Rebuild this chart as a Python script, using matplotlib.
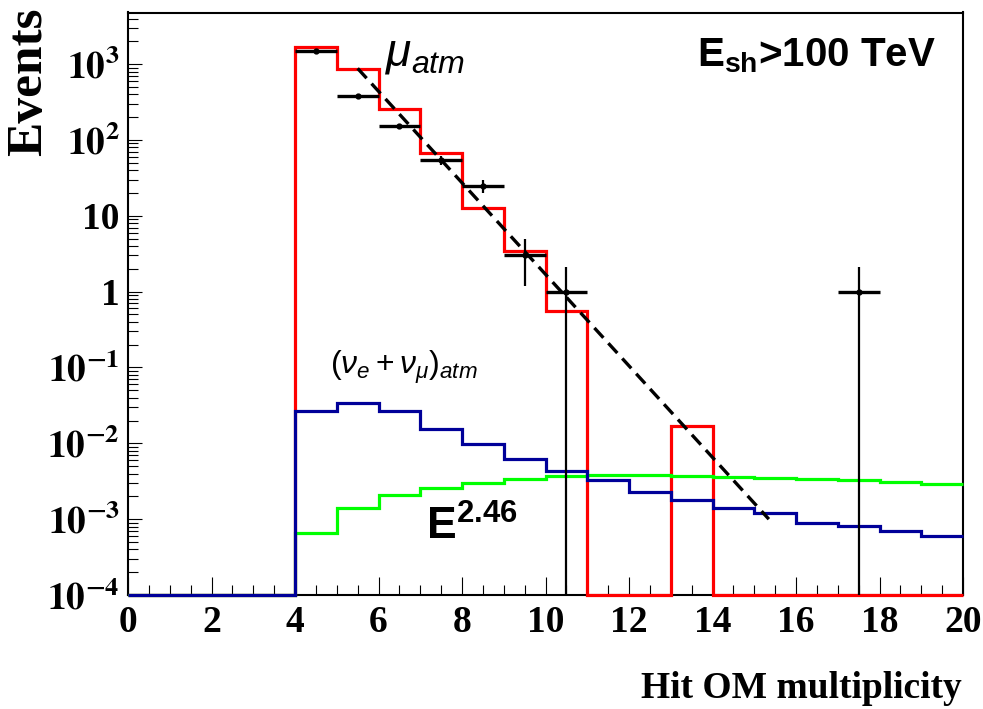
import matplotlib
matplotlib.use('Agg')
import matplotlib.pyplot as plt
from matplotlib import font_manager
from matplotlib.ticker import FixedLocator, FixedFormatter, MultipleLocator, NullFormatter
import numpy as np

# histogram binning (hit OM multiplicity)
edges = np.arange(0, 21)
floor = 1e-4

# atmospheric muons MC (red)
mu_mc = [floor, floor, floor, floor, 1675, 860, 255, 67, 12.6, 3.4, 0.55,
         floor, floor, 0.0168, floor, floor, floor, floor, floor, floor]
# atmospheric neutrinos (blue)
nu_atm = [floor, floor, floor, floor, 0.0267, 0.0344, 0.0267, 0.0153, 0.0099, 0.0063,
          0.0043, 0.00325, 0.00228, 0.00181, 0.00142, 0.00122, 0.0009, 0.00081, 0.0007, 0.0006]
# E^-2.46 signal (green)
sig = [floor, floor, floor, floor, 0.00066, 0.00142, 0.00206, 0.0026, 0.00303, 0.00342,
       0.00371, 0.00378, 0.00378, 0.00371, 0.00364, 0.00353, 0.00338, 0.00325, 0.00307, 0.0029]

# data points
data_x = [4.5, 5.5, 6.5, 7.5, 8.5, 9.5, 10.5, 17.5]
data_y = [1470, 382, 151, 54, 24.8, 3.0, 1.0, 1.0]
err_dn = [38, 20, 12, 7, 5, 1.8, 1.0, 1.0]
err_up = [38, 20, 12, 7, 5, 2.0, 1.1, 1.1]

# exponential fit to the muon tail (end points)
fit_x = [5.5, 15.35]
fit_y = [880, 1.0e-3]

ytick_vals = [1e-4, 1e-3, 1e-2, 1e-1, 1, 10, 1e2, 1e3]
ytick_labs = [r'$\mathbf{10^{-4}}$', r'$\mathbf{10^{-3}}$', r'$\mathbf{10^{-2}}$', r'$\mathbf{10^{-1}}$',
              '1', '10', r'$\mathbf{10^{2}}$', r'$\mathbf{10^{3}}$']

names = {f.name for f in font_manager.fontManager.ttflist}
sans = 'Liberation Sans Narrow' if 'Liberation Sans Narrow' in names else 'Liberation Sans'

plt.rcParams['mathtext.fontset'] = 'stix'
plt.rcParams['mathtext.rm'] = sans
plt.rcParams['mathtext.it'] = sans + ':italic'
plt.rcParams['mathtext.bf'] = sans + ':bold'

W, H = 983, 709
fig = plt.figure(figsize=(W / 100, H / 100), dpi=100)
ax = fig.add_axes([128 / W, (H - 595) / H, (963 - 128) / W, (595 - 12.5) / H])

ax.stairs(mu_mc, edges, color='#ff0000', lw=2.3, baseline=None, clip_on=False, zorder=3)
ax.stairs(nu_atm, edges, color='#000099', lw=2.3, baseline=None, clip_on=False, zorder=4)
ax.stairs(sig, edges, color='#00ff00', lw=2.3, baseline=None, clip_on=False, zorder=3.5)

# data: thick horizontal bars, thinner vertical ones
ax.errorbar(data_x, data_y, xerr=0.5, fmt='none', ecolor='black', elinewidth=2.4, capsize=0, zorder=5)
ax.errorbar(data_x, data_y, yerr=[err_dn, err_up], fmt='o', color='black',
            ms=3.5, elinewidth=1.6, capsize=0, zorder=5)
ax.plot(fit_x, fit_y, color='black', lw=2.4, ls=(0, (4, 2.2)), zorder=6)

ax.set_yscale('log')
ax.set_xlim(0, 20)
ax.set_ylim(1e-4, 4800)

ax.xaxis.set_major_locator(MultipleLocator(2))
ax.xaxis.set_minor_locator(MultipleLocator(0.5))
ax.yaxis.set_major_locator(FixedLocator(ytick_vals))
ax.yaxis.set_major_formatter(FixedFormatter(ytick_labs))
ax.yaxis.set_minor_locator(matplotlib.ticker.LogLocator(base=10, subs=np.arange(2, 10)))
ax.yaxis.set_minor_formatter(NullFormatter())

ax.tick_params(which='both', direction='in', top=False, right=False, width=0.8)
ax.tick_params(axis='x', which='major', length=13, pad=7)
ax.tick_params(axis='x', which='minor', length=7)
ax.tick_params(axis='y', which='major', length=10, pad=6)
ax.tick_params(axis='y', which='minor', length=7)
for lab in ax.get_xticklabels() + ax.get_yticklabels():
    lab.set_fontfamily('Liberation Serif')
    lab.set_fontweight('bold')
    lab.set_fontsize(27)

for s in ax.spines.values():
    s.set_linewidth(1.5)

fig.text(29 / W, 1 - 8 / H, 'Events', rotation=90, ha='center', va='top',
         family='Liberation Serif', weight='bold', fontsize=37)
fig.text(962 / W, 1 - 688 / H, 'Hit OM multiplicity', ha='right', va='center',
         family='Liberation Serif', weight='bold', fontsize=27)

fig.text(385 / W, 1 - 66 / H, r'$\mu_{atm}$', fontsize=33, math_fontfamily='custom')
fig.text(330 / W, 1 - 374 / H, r'$(\nu_e + \nu_\mu)_{atm}$', fontsize=23, math_fontfamily='custom')
fig.text(426 / W, 1 - 540 / H, r'$\mathbf{E^{2.46}}$', fontsize=32, math_fontfamily='custom')
fig.text(697 / W, 1 - 66 / H, r'$\mathbf{E_{sh}}$>100 TeV', fontsize=29, family=sans,
         weight='bold', math_fontfamily='custom')

fig.savefig('out.png', dpi=100)
